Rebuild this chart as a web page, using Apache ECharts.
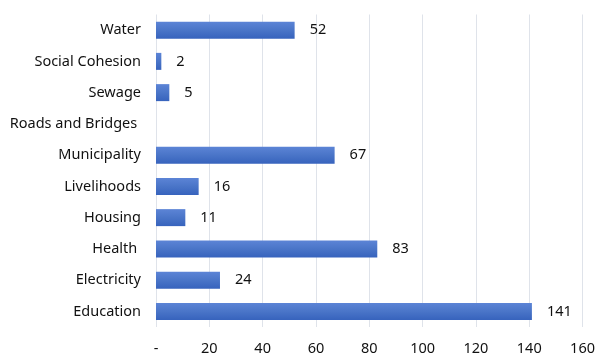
<!DOCTYPE html>
<html>
<head>
<meta charset="utf-8">
<script src="https://cdn.jsdelivr.net/npm/echarts@6/dist/echarts.min.js"></script>
<style>
html,body{margin:0;padding:0;background:#fff;}
#c{width:598px;height:356px;}
</style>
</head>
<body>
<div id="c"></div>
<script>
const categories = ['Education','Electricity','Health ','Housing','Livelihoods','Municipality','Roads and Bridges ','Sewage','Social Cohesion','Water'];
const values = [141, 24, 83, 11, 16, 67, null, 5, 2, 52];
const xTicks = { min: 0, max: 160, interval: 20 };

const FONT = 'Noto Sans';
const FS = 14.5;
const chart = echarts.init(document.getElementById('c'), null, {renderer:'canvas'});
chart.setOption({
  animation: false,
  grid: { left: 156, right: 14, top: 14.5, bottom: 27, containLabel: false },
  xAxis: {
    type: 'value', min: xTicks.min, max: xTicks.max, interval: xTicks.interval,
    axisLine: { show: false }, axisTick: { show: false },
    splitLine: { show: true, lineStyle: { color: '#dfe3ea', width: 1 } },
    axisLabel: { color: '#111', fontFamily: FONT, fontSize: FS, margin: 14,
      formatter: v => v === 0 ? '-' : String(v) }
  },
  yAxis: {
    type: 'category', data: categories,
    axisLine: { show: false }, axisTick: { show: false },
    splitLine: { show: false },
    axisLabel: { color: '#111', fontFamily: FONT, fontSize: FS, margin: 15 }
  },
  series: [{
    type: 'bar', data: values, barWidth: 17,
    itemStyle: { color: new echarts.graphic.LinearGradient(0,0,0,1,[
      {offset:0,color:'#5c84d6'},{offset:0.5,color:'#4a75c8'},{offset:1,color:'#3763bd'}]) },
    label: { show: true, position: 'right', distance: 15, color: '#111',
      fontFamily: FONT, fontSize: FS,
      formatter: p => (p.value == null ? '' : String(p.value)) }
  }]
});
</script>
</body>
</html>
